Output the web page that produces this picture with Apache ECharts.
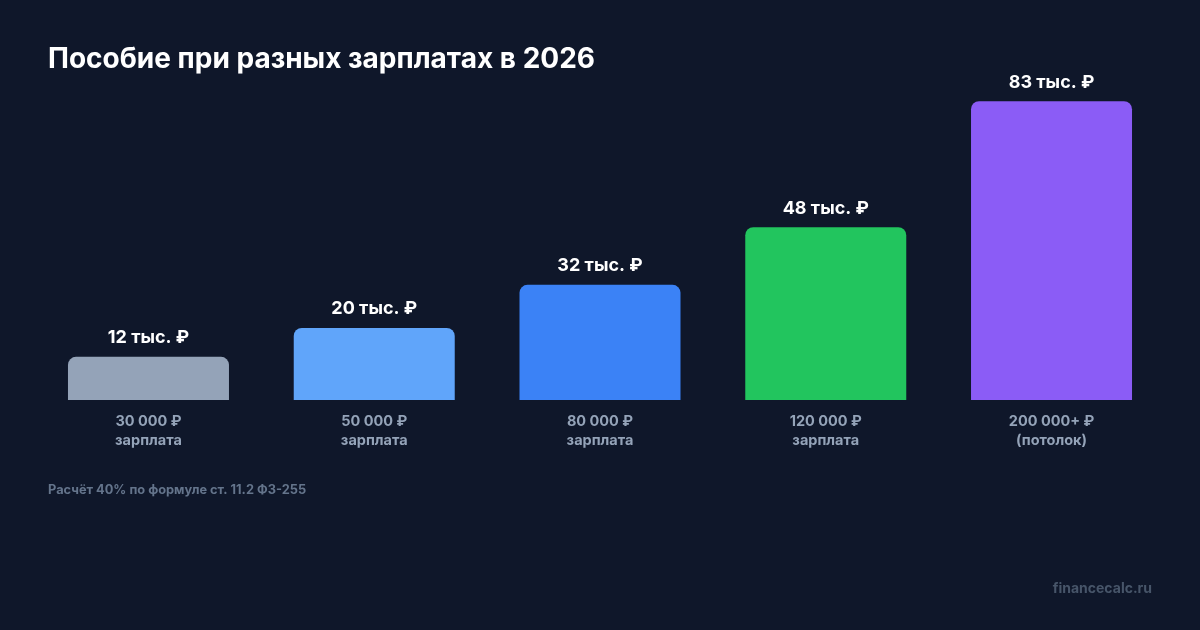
<!DOCTYPE html>
<html>
<head>
    <meta charset="utf-8">
    <title>Пособие при разных зарплатах в 2026</title>
    <script src="https://cdn.jsdelivr.net/npm/echarts@6/dist/echarts.min.js"></script>
    <style>
        html, body { margin: 0; padding: 0; background: #0f172a; }
    </style>
</head>
<body>
<div id="chart" style="width: 1200px; height: 630px;"></div>

<script>
    // данные
    var salaries = ['30 000 ₽', '50 000 ₽', '80 000 ₽', '120 000 ₽', '200 000+ ₽'];
    var notes = ['зарплата', 'зарплата', 'зарплата', 'зарплата', '(потолок)'];
    var benefit = [12, 20, 32, 48, 83]; // тыс. ₽
    var colors = ['#94a3b8', '#60a5fa', '#3b82f6', '#22c55e', '#8b5cf6'];

    var chart = echarts.init(document.getElementById('chart'));

    var option = {
        backgroundColor: '#0f172a',
        textStyle: { fontFamily: 'Inter' },
        title: {
            text: 'Пособие при разных зарплатах в 2026',
            left: 43,
            top: 41,
            textStyle: { color: '#ffffff', fontSize: 28, fontWeight: 'bold', fontFamily: 'Inter' }
        },
        grid: { left: 35.6, right: 35.6, top: 40, bottom: 230 },
        xAxis: {
            type: 'category',
            data: salaries.map(function (s, i) { return s + '\n' + notes[i]; }),
            axisLine: { show: false },
            axisTick: { show: false },
            axisLabel: {
                color: '#94a3b8',
                fontSize: 14.5,
                fontWeight: 'bold',
                lineHeight: 19,
                margin: 12
            }
        },
        yAxis: {
            type: 'value',
            min: 0,
            max: 100,
            show: false,
            splitLine: { show: false }
        },
        series: [{
            type: 'bar',
            barWidth: 161,
            data: benefit.map(function (v, i) {
                return { value: v, itemStyle: { color: colors[i], borderRadius: [8, 8, 0, 0] } };
            }),
            label: {
                show: true,
                position: 'top',
                distance: 10,
                color: '#ffffff',
                fontSize: 18,
                fontWeight: 'bold',
                formatter: function (p) { return p.value + ' тыс. ₽'; }
            }
        }],
        graphic: [
            {
                type: 'text',
                left: 48,
                top: 484,
                style: {
                    text: 'Расчёт 40% по формуле ст. 11.2 ФЗ-255',
                    fill: '#64748b',
                    font: 'bold 12.8px Inter'
                }
            },
            {
                type: 'text',
                right: 48,
                top: 582,
                style: {
                    text: 'financecalc.ru',
                    fill: '#475569',
                    font: 'bold 14px Inter'
                }
            }
        ]
    };
    chart.setOption(option);
</script>
</body>
</html>
